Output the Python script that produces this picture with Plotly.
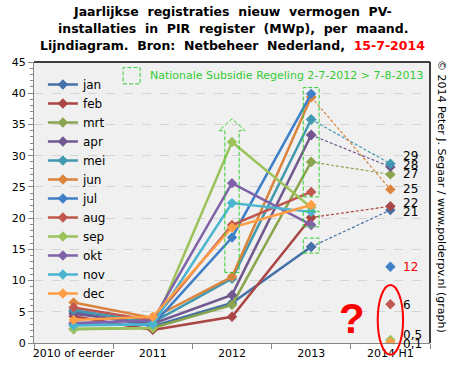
import plotly.graph_objects as go

# ---------------- data ----------------
categories = ['2010 of eerder', '2011', '2012', '2013', '2014 H1']
months = ['jan', 'feb', 'mrt', 'apr', 'mei', 'jun',
          'jul', 'aug', 'sep', 'okt', 'nov', 'dec']

jan = [5.0, 2.7, 6.4, 15.4, 21.3]
feb = [4.3, 2.1, 4.2, 20.1, 21.9]
mrt = [2.2, 2.4, 6.1, 29.0, 27.0]
apr = [4.7, 3.1, 7.7, 33.3, 28.2]
mei = [5.3, 3.3, 10.3, 35.8, 28.7]
jun = [6.5, 4.0, 10.6, 39.4, 24.6]
jul = [3.0, 2.9, 16.9, 39.9, 12.2]
aug = [5.7, 3.6, 18.9, 24.2, 6.2]
sep = [2.3, 2.4, 32.2, 21.7, 0.5]
okt = [3.2, 3.6, 25.6, 18.9, None]
nov = [2.8, 3.0, 22.4, 21.0, None]
dec = [3.7, 4.2, 18.5, 22.1, 0.1]
series = [jan, feb, mrt, apr, mei, jun, jul, aug, sep, okt, nov, dec]

labels_2014 = ['21', '22', '27', '28', '29', '25', '12', '6', '0,5', None, None, '0,1']
y_ticks = [0, 5, 10, 15, 20, 25, 30, 35, 40, 45]

# ---------------- style ----------------
colors = ['#4572A7', '#AA4643', '#89A54E', '#71588F', '#4198AF', '#DB843D',
          '#3F7FC8', '#C0584F', '#9BC35A', '#7F62A8', '#4BB5D0', '#FF9E45']
dashed_months = {'jan', 'feb', 'mrt', 'apr', 'mei', 'jun'}
label_shift = {'jan': -2, 'feb': 3, 'mrt': 0, 'apr': 2, 'mei': 8, 'jun': 0,
               'jul': 0, 'aug': -1, 'sep': 5, 'dec': -2}
label_color = {'jul': 'red'}
FONT = 'DejaVu Sans'
GREEN = '#33CC33'

W, H = 455, 374
ML, MR, MT, MB = 30, 25, 62, 31
PW, PH = W - ML - MR, H - MT - MB
XR = [-0.5, 4.5]
YR = [0, 45]


def px_x(px):
    return (px - ML) / PW


def px_y(py):
    return (H - MB - py) / PH


def dx(i):
    return (i - XR[0]) / (XR[1] - XR[0])


def dy(v):
    return (v - YR[0]) / (YR[1] - YR[0])


fig = go.Figure()

# dashed connections 2013 -> 2014 H1
for m, vals, c in zip(months, series, colors):
    if m in dashed_months and vals[4] is not None:
        fig.add_trace(go.Scatter(
            x=categories[3:5], y=vals[3:5], mode='lines+markers',
            line=dict(color=c, width=1.2, dash='3px,2px'),
            marker=dict(symbol='diamond', size=8, color=c),
            showlegend=False, hoverinfo='skip'))

# solid lines 2010 - 2013
for m, vals, c in zip(months, series, colors):
    fig.add_trace(go.Scatter(
        x=categories[:4], y=vals[:4], mode='lines+markers', name=m,
        line=dict(color=c, width=2.5),
        marker=dict(symbol='diamond', size=8, color=c)))

# isolated 2014 points
for m, vals, c in zip(months, series, colors):
    if m not in dashed_months and vals[4] is not None:
        fig.add_trace(go.Scatter(
            x=categories[4:5], y=vals[4:5], mode='markers',
            marker=dict(symbol='diamond', size=8, color=c),
            showlegend=False, hoverinfo='skip'))

annotations = []
for m, vals, lab in zip(months, series, labels_2014):
    if lab is None or vals[4] is None:
        continue
    annotations.append(dict(
        x=categories[4], y=vals[4], xref='x', yref='y', text=lab,
        showarrow=False, xanchor='left', yanchor='middle',
        xshift=11, yshift=label_shift.get(m, 0),
        font=dict(family=FONT, size=12, color=label_color.get(m, 'black'))))

# title lines
title_lines = [
    '<b>Jaarlijkse  registraties  nieuw  vermogen  PV-</b>',
    '<b>installaties  in  PIR  register  (MWp),  per  maand.</b>',
    "<b>Lijndiagram.  Bron:  Netbeheer  Nederland,  <span style='color:red'>15-7-2014</span></b>",
]
for i, t in enumerate(title_lines):
    annotations.append(dict(
        x=px_x(231), y=px_y(11 + 17.5 * i), xref='paper', yref='paper',
        text=t, showarrow=False, xanchor='center', yanchor='middle',
        font=dict(family=FONT, size=12.5, color='black')))

annotations.append(dict(
    x=dx(0.94), y=dy(42.8), xref='paper', yref='paper',
    text='Nationale Subsidie Regeling 2-7-2012 > 7-8-2013',
    showarrow=False, xanchor='left', yanchor='middle',
    font=dict(family=FONT, size=11, color=GREEN)))

annotations.append(dict(
    x=dx(3.52), y=dy(4.0), xref='paper', yref='paper', text='<b>?</b>',
    showarrow=False, xanchor='center', yanchor='middle',
    font=dict(family='Liberation Sans', size=42, color='red')))

annotations.append(dict(
    x=px_x(442), y=px_y(197), xref='paper', yref='paper',
    text='© 2014 Peter J. Segaar / www.polderpv.nl (graph)',
    showarrow=False, textangle=90, xanchor='center', yanchor='middle',
    font=dict(family=FONT, size=11, color='black')))

shapes = []
dash_line = dict(color=GREEN, width=1, dash='4px,2px')
# legend key square
shapes.append(dict(type='rect', xref='paper', yref='paper',
                   x0=dx(0.625), x1=dx(0.84), y0=dy(41.5), y1=dy(44.1), line=dash_line))
# rectangles around 2013
for y0, y1 in [(23.4, 40.9), (18.6, 21.1), (14.4, 16.8)]:
    shapes.append(dict(type='rect', xref='paper', yref='paper',
                       x0=dx(2.9), x1=dx(3.1), y0=dy(y0), y1=dy(y1), line=dash_line))
# arrow around 2012
pts = [(1.91, 11.3), (1.91, 34.0), (1.835, 34.0), (2.0, 35.9),
       (2.165, 34.0), (2.09, 34.0), (2.09, 11.3)]
path = 'M ' + ' L '.join(f'{dx(a):.5f},{dy(b):.5f}' for a, b in pts) + ' Z'
shapes.append(dict(type='path', xref='paper', yref='paper', path=path, line=dash_line))
# red ellipse
shapes.append(dict(type='circle', xref='paper', yref='paper',
                   x0=dx(3.84), x1=dx(4.16), y0=dy(-1.9), y1=dy(9.3),
                   line=dict(color='red', width=2)))
# black frame top / right
shapes.append(dict(type='line', xref='paper', yref='paper', x0=0, x1=1, y0=1, y1=1,
                   line=dict(color='black', width=1.5)))
shapes.append(dict(type='line', xref='paper', yref='paper', x0=1, x1=1, y0=0, y1=1,
                   line=dict(color='black', width=1.5)))

fig.update_layout(
    width=W, height=H,
    margin=dict(l=ML, r=MR, t=MT, b=MB, pad=0),
    paper_bgcolor='white', plot_bgcolor='#F0F0F0',
    font=dict(family=FONT, size=11, color='black'),
    showlegend=True,
    legend=dict(x=px_x(39), y=px_y(70), xanchor='left', yanchor='top',
                bgcolor='rgba(0,0,0,0)', font=dict(family=FONT, size=12),
                itemwidth=30, tracegroupgap=0),
    annotations=annotations, shapes=shapes,
    xaxis=dict(type='category', categoryorder='array', categoryarray=categories,
               range=XR, tickson='boundaries', ticks='outside', tickangle=0,
               ticklen=5, tickcolor='#868686', showline=True, linecolor='#868686',
               linewidth=1, showgrid=False, zeroline=False,
               tickfont=dict(family=FONT, size=11, color='black')),
    yaxis=dict(range=YR, tickvals=y_ticks, ticks='outside', ticklen=5,
               tickcolor='#868686', showline=True, linecolor='#868686', linewidth=1,
               showgrid=True, gridcolor='#D4D4D4', griddash='dash', zeroline=False,
               minor=dict(dtick=1, ticks='outside', ticklen=3, tickcolor='#868686',
                          showgrid=False),
               tickfont=dict(family=FONT, size=11, color='black')),
)

fig.write_html('out.html', config={'displayModeBar': False},
               post_script="document.body.style.margin='0';document.body.style.overflow='hidden';")
